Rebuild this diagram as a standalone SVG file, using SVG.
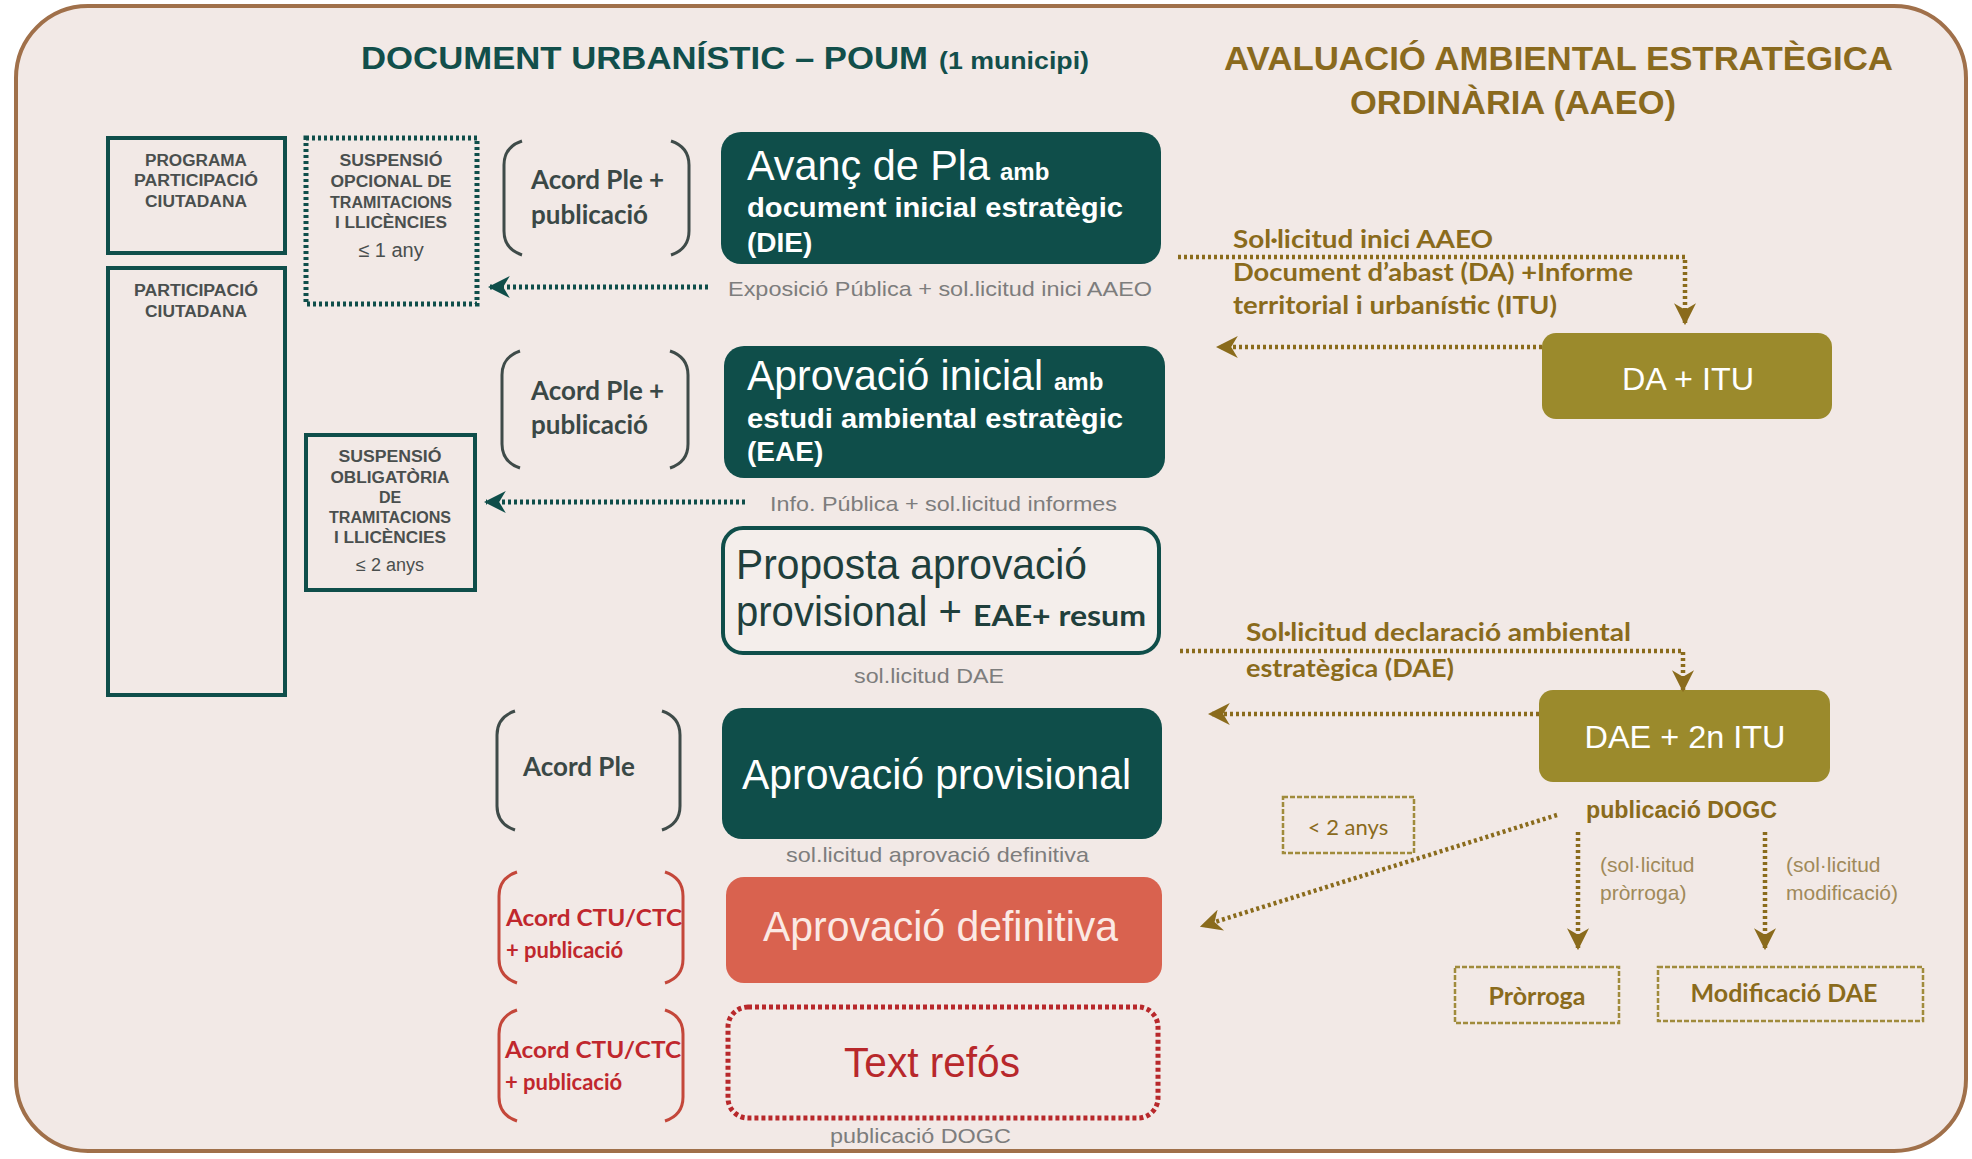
<svg xmlns="http://www.w3.org/2000/svg" width="1972" height="1159" viewBox="0 0 1972 1159">
<defs>
<style>
.sans{font-family:"Liberation Sans",Arial,sans-serif}
.cal{font-family:Lato,"Open Sans",sans-serif}
.title-t{font-weight:bold;fill:#124f4b}
.title-o{font-weight:bold;fill:#8a6a1e}
.cap{font-family:"Liberation Sans",Arial,sans-serif;font-weight:bold;font-size:16px;fill:#4a4f4e;text-anchor:middle}
.gray{font-family:"Liberation Sans",Arial,sans-serif;font-size:21px;fill:#7d7d7d}
.wt{fill:#ffffff}
.br{fill:none;stroke:#3f4b49;stroke-width:3}
.brr{fill:none;stroke:#c4473a;stroke-width:3}
.acord{font-family:Lato,"Open Sans",sans-serif;font-weight:bold;font-size:26px;fill:#3a4846}
.acordr{font-family:Lato,"Open Sans",sans-serif;font-weight:bold;font-size:22px;fill:#c0272d}
.teal{fill:#0f4e4a}
.olivebox{fill:#9b8a2c}
.olab{font-family:Lato,"Open Sans",sans-serif;font-weight:bold;font-size:24px;fill:#8a6b1c}
.olab2{font-family:"Liberation Sans",Arial,sans-serif;font-size:21px;fill:#a08a5a}
.tdot{fill:none;stroke:#0f4e4a;stroke-width:5;stroke-dasharray:3 3}
.odot{fill:none;stroke:#8a6b1c;stroke-width:4.5;stroke-dasharray:3 3}
.odash{fill:none;stroke:#a08b3c;stroke-width:2.5;stroke-dasharray:5 2}
</style>
<marker id="at" viewBox="0 0 10 10" refX="9" refY="5" markerWidth="22" markerHeight="22" markerUnits="userSpaceOnUse" orient="auto">
<path d="M0,0 L10,5 L0,10 L3,5 Z" fill="#0f4e4a"/>
</marker>
<marker id="ao" viewBox="0 0 10 10" refX="9" refY="5" markerWidth="22" markerHeight="22" markerUnits="userSpaceOnUse" orient="auto">
<path d="M0,0 L10,5 L0,10 L3,5 Z" fill="#8a6b1c"/>
</marker>
</defs>
<rect x="0" y="0" width="1972" height="1159" fill="#ffffff"/>
<rect x="16" y="6" width="1950" height="1145" rx="72" fill="#f2e9e6" stroke="#a0704a" stroke-width="4"/>

<g id="titles">
<text class="sans title-t" x="361" y="69" font-size="32" textLength="567" lengthAdjust="spacingAndGlyphs">DOCUMENT URBANÍSTIC – POUM</text>
<text class="sans title-t" x="939" y="69" font-size="23" textLength="150" lengthAdjust="spacingAndGlyphs">(1 municipi)</text>
<text class="sans title-o" x="1224" y="70" font-size="33" textLength="669" lengthAdjust="spacingAndGlyphs">AVALUACIÓ AMBIENTAL ESTRATÈGICA</text>
<text class="sans title-o" x="1350" y="114" font-size="33" textLength="326" lengthAdjust="spacingAndGlyphs">ORDINÀRIA (AAEO)</text>
</g>

<g id="programa">
<rect x="108" y="138" width="177" height="115" fill="none" stroke="#0f4e4a" stroke-width="4"/>
<text class="cap" x="196" y="166" textLength="102" lengthAdjust="spacingAndGlyphs">PROGRAMA</text>
<text class="cap" x="196" y="186" textLength="124" lengthAdjust="spacingAndGlyphs">PARTICIPACIÓ</text>
<text class="cap" x="196" y="207" textLength="102" lengthAdjust="spacingAndGlyphs">CIUTADANA</text>
</g>
<g id="participacio">
<rect x="108" y="268" width="177" height="427" fill="none" stroke="#0f4e4a" stroke-width="4"/>
<text class="cap" x="196" y="296" textLength="124" lengthAdjust="spacingAndGlyphs">PARTICIPACIÓ</text>
<text class="cap" x="196" y="317" textLength="102" lengthAdjust="spacingAndGlyphs">CIUTADANA</text>
</g>
<g id="susp-opcional">
<rect x="306" y="138" width="171" height="166" class="tdot" stroke-width="3.5"/>
<text class="cap" x="391" y="166" textLength="103" lengthAdjust="spacingAndGlyphs">SUSPENSIÓ</text>
<text class="cap" x="391" y="187" textLength="121" lengthAdjust="spacingAndGlyphs">OPCIONAL DE</text>
<text class="cap" x="391" y="208" textLength="122" lengthAdjust="spacingAndGlyphs">TRAMITACIONS</text>
<text class="cap" x="391" y="228" textLength="112" lengthAdjust="spacingAndGlyphs">I LLICÈNCIES</text>
<text class="sans" x="391" y="257" font-size="20" fill="#4a4f4e" text-anchor="middle">≤ 1 any</text>
</g>
<g id="susp-obligatoria">
<rect x="306" y="435" width="169" height="155" fill="none" stroke="#0f4e4a" stroke-width="4"/>
<text class="cap" x="390" y="462" textLength="103" lengthAdjust="spacingAndGlyphs">SUSPENSIÓ</text>
<text class="cap" x="390" y="483" textLength="119" lengthAdjust="spacingAndGlyphs">OBLIGATÒRIA</text>
<text class="cap" x="390" y="503">DE</text>
<text class="cap" x="390" y="523" textLength="122" lengthAdjust="spacingAndGlyphs">TRAMITACIONS</text>
<text class="cap" x="390" y="543" textLength="112" lengthAdjust="spacingAndGlyphs">I LLICÈNCIES</text>
<text class="sans" x="390" y="571" font-size="18" fill="#4a4f4e" text-anchor="middle">≤ 2 anys</text>
</g>

<g id="bracket1">
<path class="br" d="M522,141 Q504,147 504,165 V231 Q504,249 522,255"/>
<path class="br" d="M671,141 Q689,147 689,165 V231 Q689,249 671,255"/>
<text class="acord" x="531" y="189">Acord Ple +</text>
<text class="acord" x="531" y="224">publicació</text>
</g>
<g id="bracket2">
<path class="br" d="M520,351 Q502,357 502,375 V444 Q502,462 520,468"/>
<path class="br" d="M670,351 Q688,357 688,375 V444 Q688,462 670,468"/>
<text class="acord" x="531" y="400">Acord Ple +</text>
<text class="acord" x="531" y="434">publicació</text>
</g>
<g id="bracket3">
<path class="br" d="M515,711 Q497,717 497,735 V806 Q497,824 515,830"/>
<path class="br" d="M662,711 Q680,717 680,735 V806 Q680,824 662,830"/>
<text class="acord" x="523" y="776">Acord Ple</text>
</g>
<g id="bracket4">
<path class="brr" d="M517,872 Q499,878 499,896 V959 Q499,977 517,983"/>
<path class="brr" d="M665,872 Q683,878 683,896 V959 Q683,977 665,983"/>
<text class="acordr" x="506" y="926" textLength="176" lengthAdjust="spacingAndGlyphs">Acord  CTU/CTC</text>
<text class="acordr" x="506" y="958">+ publicació</text>
</g>
<g id="bracket5">
<path class="brr" d="M517,1010 Q499,1016 499,1034 V1097 Q499,1115 517,1121"/>
<path class="brr" d="M665,1010 Q683,1016 683,1034 V1097 Q683,1115 665,1121"/>
<text class="acordr" x="505" y="1058" textLength="176" lengthAdjust="spacingAndGlyphs">Acord  CTU/CTC</text>
<text class="acordr" x="505" y="1090">+ publicació</text>
</g>

<g id="avanc">
<rect class="teal" x="721" y="132" width="440" height="132" rx="20"/>
<text class="sans wt" x="747" y="180" font-size="42" textLength="243" lengthAdjust="spacingAndGlyphs">Avanç de Pla</text>
<text class="sans wt" x="1000" y="180" font-size="24" font-weight="bold">amb</text>
<text class="sans wt" x="747" y="217" font-size="28" font-weight="bold" textLength="376" lengthAdjust="spacingAndGlyphs">document inicial estratègic</text>
<text class="sans wt" x="747" y="252" font-size="28" font-weight="bold">(DIE)</text>
<text class="gray" x="728" y="296" textLength="424" lengthAdjust="spacingAndGlyphs">Exposició Pública + sol.licitud inici AAEO</text>
</g>
<g id="aprovacio-inicial">
<rect class="teal" x="724" y="346" width="441" height="132" rx="20"/>
<text class="sans wt" x="747" y="390" font-size="42" textLength="296" lengthAdjust="spacingAndGlyphs">Aprovació inicial</text>
<text class="sans wt" x="1054" y="390" font-size="24" font-weight="bold">amb</text>
<text class="sans wt" x="747" y="428" font-size="28" font-weight="bold" textLength="376" lengthAdjust="spacingAndGlyphs">estudi ambiental estratègic</text>
<text class="sans wt" x="747" y="461" font-size="28" font-weight="bold">(EAE)</text>
<text class="gray" x="770" y="511" textLength="347" lengthAdjust="spacingAndGlyphs">Info. Pública + sol.licitud informes</text>
</g>
<g id="proposta">
<rect x="723" y="528" width="436" height="125" rx="20" fill="#f4eeeb" stroke="#0f4e4a" stroke-width="4"/>
<text class="sans" x="736" y="579" font-size="42" fill="#1f3f3c" textLength="351" lengthAdjust="spacingAndGlyphs">Proposta aprovació</text>
<text class="sans" x="736" y="626" font-size="42" fill="#1f3f3c" textLength="226" lengthAdjust="spacingAndGlyphs">provisional +</text>
<text class="cal" x="973" y="626" font-size="28" font-weight="bold" fill="#1f3f3c" textLength="173" lengthAdjust="spacingAndGlyphs">EAE+ resum</text>
<text class="gray" x="854" y="683" textLength="150" lengthAdjust="spacingAndGlyphs">sol.licitud DAE</text>
</g>
<g id="aprovacio-provisional">
<rect class="teal" x="722" y="708" width="440" height="131" rx="20"/>
<text class="sans wt" x="742" y="789" font-size="42" textLength="389" lengthAdjust="spacingAndGlyphs">Aprovació provisional</text>
<text class="gray" x="786" y="862" textLength="303" lengthAdjust="spacingAndGlyphs">sol.licitud aprovació definitiva</text>
</g>
<g id="aprovacio-definitiva">
<rect x="726" y="877" width="436" height="106" rx="18" fill="#d9624f"/>
<text class="sans" x="763" y="941" font-size="42" fill="#fbe9e4" textLength="355" lengthAdjust="spacingAndGlyphs">Aprovació definitiva</text>
</g>
<g id="text-refos">
<rect x="728" y="1007" width="430" height="111" rx="20" fill="none" stroke="#b8282b" stroke-width="5" stroke-dasharray="4 3"/>
<text class="sans" x="844" y="1077" font-size="42" fill="#b8282b" textLength="176" lengthAdjust="spacingAndGlyphs">Text refós</text>
<text class="gray" x="830" y="1143" textLength="181" lengthAdjust="spacingAndGlyphs">publicació DOGC</text>
</g>

<g id="da-itu">
<rect class="olivebox" x="1542" y="333" width="290" height="86" rx="14"/>
<text class="sans wt" x="1688" y="390" font-size="31" text-anchor="middle" textLength="132" lengthAdjust="spacingAndGlyphs">DA + ITU</text>
</g>
<g id="dae-itu">
<rect class="olivebox" x="1539" y="690" width="291" height="92" rx="14"/>
<text class="sans wt" x="1685" y="748" font-size="31" text-anchor="middle" textLength="201" lengthAdjust="spacingAndGlyphs">DAE + 2n ITU</text>
<text class="sans" x="1586" y="818" font-size="23" font-weight="bold" fill="#8a6b1c" textLength="191" lengthAdjust="spacingAndGlyphs">publicació DOGC</text>
</g>
<g id="menys2anys">
<rect class="odash" x="1283" y="797" width="131" height="56"/>
<text class="cal" x="1348" y="835" font-size="22" fill="#8a6b1c" text-anchor="middle">&lt; 2 anys</text>
</g>
<g id="prorroga">
<rect class="odash" x="1455" y="967" width="164" height="56"/>
<text class="cal" x="1537" y="1005" font-size="25" font-weight="bold" fill="#8a6b1c" text-anchor="middle">Pròrroga</text>
</g>
<g id="modificacio">
<rect class="odash" x="1658" y="967" width="265" height="54"/>
<text class="cal" x="1784" y="1002" font-size="25" font-weight="bold" fill="#8a6b1c" text-anchor="middle">Modificació DAE</text>
</g>

<g id="connectors">
<path class="tdot" d="M708,287 H490" marker-end="url(#at)"/>
<path class="tdot" d="M745,502 H486" marker-end="url(#at)"/>
<path class="odot" d="M1178,257 H1685 V323" marker-end="url(#ao)"/>
<path class="odot" d="M1542,347 H1218" marker-end="url(#ao)"/>
<path class="odot" d="M1180,651 H1683 V690" marker-end="url(#ao)"/>
<path class="odot" d="M1539,714 H1210" marker-end="url(#ao)"/>
<path class="odot" d="M1557,815 L1202,926" marker-end="url(#ao)"/>
<path class="odot" d="M1578,832 V948" marker-end="url(#ao)"/>
<path class="odot" d="M1765,832 V948" marker-end="url(#ao)"/>
</g>
<g id="labels">
<text class="olab" x="1233" y="248" textLength="260" lengthAdjust="spacingAndGlyphs">Sol·licitud  inici AAEO</text>
<text class="olab" x="1233" y="281" textLength="400" lengthAdjust="spacingAndGlyphs">Document d’abast (DA) +Informe</text>
<text class="olab" x="1233" y="314" textLength="324" lengthAdjust="spacingAndGlyphs">territorial i urbanístic (ITU)</text>
<text class="olab" x="1246" y="641" textLength="385" lengthAdjust="spacingAndGlyphs">Sol·licitud  declaració ambiental</text>
<text class="olab" x="1246" y="677" textLength="208" lengthAdjust="spacingAndGlyphs">estratègica (DAE)</text>
<text class="olab2" x="1600" y="872">(sol·licitud</text>
<text class="olab2" x="1600" y="900">pròrroga)</text>
<text class="olab2" x="1786" y="872">(sol·licitud</text>
<text class="olab2" x="1786" y="900">modificació)</text>
</g>
</svg>
